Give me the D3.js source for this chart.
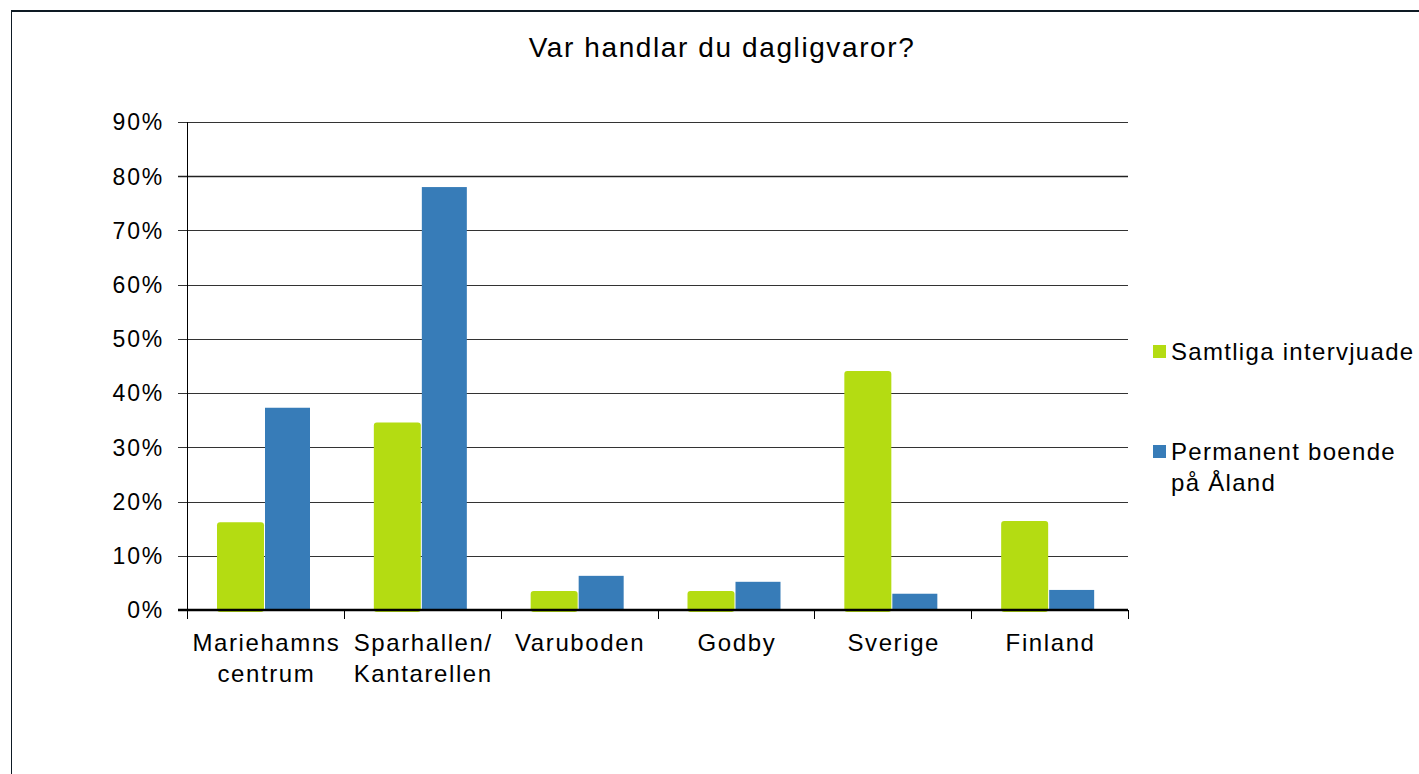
<!DOCTYPE html>
<meta charset="utf-8">
<script src="https://d3js.org/d3.v7.min.js"></script>
<style>
  body { margin: 0; background: #fff; }
  text { font-family: "Liberation Sans", Arial, sans-serif; fill: #000; }
</style>
<svg id="chart" width="1419" height="774"></svg>
<script>
// data
var categories = [["Mariehamns", "centrum"], ["Sparhallen/", "Kantarellen"], ["Varuboden"], ["Godby"], ["Sverige"], ["Finland"]];
var seriesNames = [["Samtliga intervjuade"], ["Permanent boende", "på Åland"]];
var samtliga = [16.2, 34.6, 3.5, 3.5, 44.1, 16.4];
var permanent = [37.3, 78.0, 6.3, 5.2, 3.0, 3.7];
var yTicks = [0, 10, 20, 30, 40, 50, 60, 70, 80, 90];
var colors = ["#b4dc12", "#377cb8"];

var svg = d3.select("#chart");

// frame
svg.append("line").attr("x1", 11).attr("x2", 1419).attr("y1", 11).attr("y2", 11)
  .attr("stroke", "#0e1a24").attr("stroke-width", 2);
svg.append("line").attr("x1", 11.5).attr("x2", 11.5).attr("y1", 11).attr("y2", 774)
  .attr("stroke", "#0e1a24").attr("stroke-width", 1);

var plotLeft = 187, plotRight = 1128, plotTop = 122, plotBottom = 610;

var x = d3.scaleBand().domain(d3.range(categories.length)).range([plotLeft, plotRight]);
var y = d3.scaleLinear().domain([0, 90]).range([plotBottom, plotTop]);

// title
svg.append("text").attr("x", 722).attr("y", 57).attr("text-anchor", "middle")
  .style("font-size", "28px").style("letter-spacing", "1.6px")
  .text("Var handlar du dagligvaror?");

// gridlines
svg.append("g").selectAll("line").data(yTicks.filter(function(d){ return d > 0; })).enter()
  .append("line")
    .attr("x1", plotLeft - 9).attr("x2", plotRight)
    .attr("y1", function(d){ return Math.round(y(d)) + 0.5; })
    .attr("y2", function(d){ return Math.round(y(d)) + 0.5; })
    .attr("stroke", function(d){ return d === 80 ? "#222" : "#333"; })
    .attr("stroke-width", function(d){ return d === 80 ? 1.6 : 1; });

// y labels
svg.append("g").selectAll("text").data(yTicks).enter()
  .append("text")
    .attr("x", 164).attr("y", function(d){ return y(d); })
    .attr("dy", "0.36em").attr("text-anchor", "end")
    .style("font-size", "23px").style("letter-spacing", "1.8px")
    .text(function(d){ return d + "%"; });

// bars
var bw = 47;
var groups = svg.append("g").selectAll("g").data(categories).enter().append("g")
  .attr("transform", function(d, i){ return "translate(" + x(i) + ",0)"; });

groups.append("rect")
  .attr("x", 30).attr("width", bw)
  .attr("y", function(d, i){ return y(samtliga[i]); })
  .attr("height", function(d, i){ return y(0) - y(samtliga[i]) + 2; })
  .attr("rx", 3)
  .attr("fill", colors[0]);

groups.append("rect")
  .attr("x", 30 + bw + 1).attr("width", 45)
  .attr("y", function(d, i){ return y(permanent[i]); })
  .attr("height", function(d, i){ return y(0) - y(permanent[i]); })
  .attr("fill", colors[1]);

// y axis line
svg.append("line").attr("x1", plotLeft + 0.5).attr("x2", plotLeft + 0.5).attr("y1", plotTop).attr("y2", plotBottom)
  .attr("stroke", "#000").attr("stroke-width", 1);

// x axis
svg.append("line").attr("x1", plotLeft - 9).attr("x2", plotRight).attr("y1", plotBottom).attr("y2", plotBottom)
  .attr("stroke", "#000").attr("stroke-width", 2.5);
svg.append("g").selectAll("line").data(d3.range(categories.length + 1)).enter()
  .append("line")
    .attr("x1", function(d){ return Math.round(plotLeft + d * x.bandwidth()) + 0.5; })
    .attr("x2", function(d){ return Math.round(plotLeft + d * x.bandwidth()) + 0.5; })
    .attr("y1", plotBottom).attr("y2", plotBottom + 9)
    .attr("stroke", "#000");

// category labels
groups.append("text")
  .attr("text-anchor", "middle")
  .style("font-size", "24px").style("letter-spacing", "1.6px")
  .selectAll("tspan").data(function(d){ return d; }).enter()
  .append("tspan")
    .attr("x", x.bandwidth() / 2 + 1)
    .attr("y", function(d, j){ return 651 + j * 31; })
    .text(function(d){ return d; });

// legend
var legendY = [352, 452];
var leg = svg.append("g").selectAll("g").data(seriesNames).enter().append("g");
leg.append("rect")
  .attr("x", 1153).attr("width", 13).attr("height", 13)
  .attr("y", function(d, i){ return legendY[i] - 7; })
  .attr("fill", function(d, i){ return colors[i]; });
leg.append("text").style("font-size", "24px").style("letter-spacing", "1.3px")
  .selectAll("tspan").data(function(d, i){ return d.map(function(t){ return [t, i]; }); }).enter()
  .append("tspan")
    .attr("x", 1171)
    .attr("y", function(d, j){ return legendY[d[1]] + 8 + j * 31; })
    .text(function(d){ return d[0]; });
</script>
